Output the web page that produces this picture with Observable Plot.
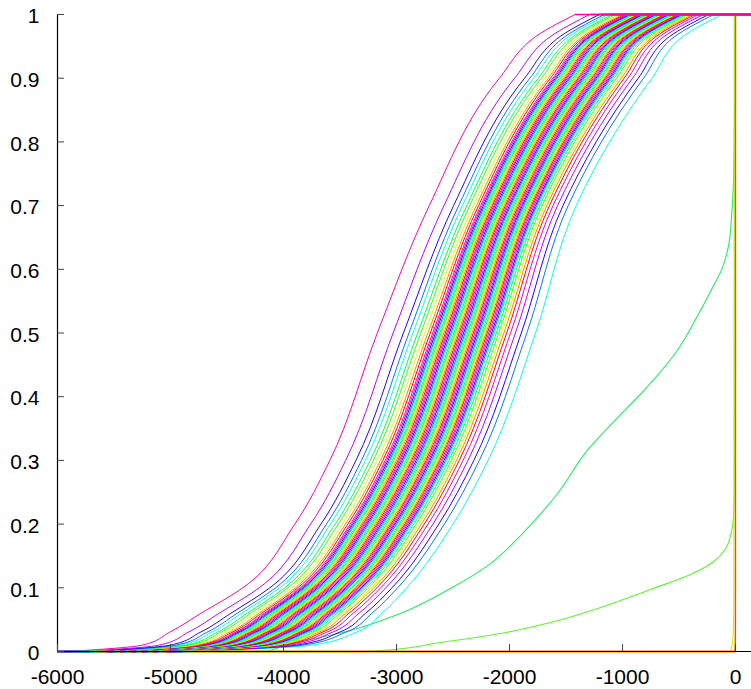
<!DOCTYPE html>
<html><head><meta charset="utf-8">
<script src="https://cdn.jsdelivr.net/npm/d3@7"></script>
<script src="https://cdn.jsdelivr.net/npm/@observablehq/plot@0.6"></script>
<style>html,body{margin:0;padding:0;background:#fff}svg{display:block}</style>
</head><body><div id="chart"></div>
<script>
const xDomain = [-6000, 141];
const yDomain = [0, 1];
const xTicks = [-6000, -5000, -4000, -3000, -2000, -1000, 0];
const yTicks = [0, 0.1, 0.2, 0.3, 0.4, 0.5, 0.6, 0.7, 0.8, 0.9, 1];

// cumulative levels at which the x of every band curve was read (left to right)
const bandLevels = [0, 0.01, 0.03, 0.06, 0.1, 0.2, 0.3, 0.5, 0.7, 0.9, 0.97, 1];
const bandP000 = [-5900,-5790,-5718,-5680,-5652,-5619,-5597,-5570,-5548,-5531,-5515,-5505,-5495,-5485,-5476,-5467,-5457,-5447,-5437,-5427,-5417,-5408,-5398,-5388,-5379,-5369,-5359,-5349,-5340,-5330,-5320,-5310,-5300,-5291,-5281,-5272,-5262,-5252,-5242,-5232,-5222,-5212,-5204,-5194,-5184,-5174,-5164,-5154,-5144,-5135,-5126,-5116,-5106,-5096,-5086,-5073,-5055,-5036,-5020,-5000,-4974,-4940,-4899,-4860,-4800];
const bandP001 = [-5250,-5100,-5002,-4950,-4912,-4867,-4837,-4800,-4770,-4747,-4725,-4711,-4698,-4684,-4672,-4659,-4645,-4632,-4618,-4605,-4591,-4579,-4566,-4552,-4539,-4525,-4512,-4498,-4486,-4473,-4459,-4446,-4432,-4419,-4405,-4393,-4380,-4366,-4353,-4339,-4326,-4312,-4300,-4287,-4273,-4260,-4246,-4233,-4219,-4207,-4194,-4180,-4167,-4153,-4140,-4122,-4098,-4072,-4050,-4023,-3987,-3940,-3885,-3832,-3750];
const bandP003 = [-5010,-4845,-4738,-4680,-4639,-4589,-4556,-4515,-4482,-4457,-4432,-4418,-4403,-4388,-4375,-4360,-4345,-4330,-4315,-4300,-4286,-4272,-4258,-4243,-4228,-4213,-4198,-4183,-4170,-4155,-4140,-4126,-4111,-4096,-4081,-4068,-4053,-4038,-4023,-4008,-3994,-3979,-3966,-3951,-3936,-3921,-3906,-3891,-3876,-3863,-3848,-3834,-3819,-3804,-3789,-3769,-3743,-3715,-3690,-3660,-3621,-3570,-3508,-3451,-3360];
const bandP006 = [-4730,-4570,-4466,-4410,-4370,-4322,-4290,-4250,-4218,-4194,-4170,-4156,-4141,-4127,-4114,-4100,-4085,-4071,-4056,-4042,-4028,-4015,-4000,-3986,-3972,-3957,-3943,-3928,-3916,-3901,-3887,-3872,-3858,-3844,-3829,-3816,-3802,-3788,-3773,-3759,-3744,-3730,-3717,-3703,-3688,-3674,-3660,-3645,-3631,-3618,-3604,-3589,-3575,-3560,-3546,-3527,-3501,-3474,-3450,-3421,-3383,-3333,-3274,-3218,-3130];
const bandP010 = [-4360,-4215,-4121,-4070,-4034,-3990,-3961,-3925,-3896,-3874,-3852,-3839,-3826,-3813,-3802,-3789,-3776,-3763,-3750,-3736,-3723,-3712,-3699,-3686,-3673,-3660,-3647,-3634,-3622,-3609,-3596,-3583,-3570,-3557,-3544,-3532,-3519,-3506,-3493,-3480,-3467,-3454,-3442,-3429,-3416,-3403,-3390,-3377,-3364,-3352,-3339,-3326,-3313,-3300,-3287,-3270,-3246,-3222,-3200,-3174,-3139,-3094,-3040,-2990,-2910];
const bandP020 = [-3900,-3760,-3669,-3620,-3585,-3543,-3515,-3480,-3452,-3431,-3410,-3397,-3385,-3372,-3361,-3348,-3336,-3323,-3311,-3298,-3285,-3274,-3262,-3249,-3236,-3224,-3211,-3199,-3187,-3175,-3162,-3150,-3137,-3124,-3112,-3101,-3088,-3075,-3063,-3050,-3038,-3025,-3014,-3001,-2989,-2976,-2963,-2951,-2938,-2927,-2914,-2902,-2889,-2877,-2864,-2847,-2825,-2801,-2780,-2755,-2721,-2678,-2626,-2577,-2500];
const bandP030 = [-3590,-3450,-3359,-3310,-3275,-3233,-3205,-3170,-3142,-3121,-3100,-3087,-3075,-3062,-3051,-3038,-3026,-3013,-3001,-2988,-2975,-2964,-2952,-2939,-2926,-2914,-2901,-2889,-2877,-2865,-2852,-2840,-2827,-2814,-2802,-2791,-2778,-2765,-2753,-2740,-2728,-2715,-2704,-2691,-2679,-2666,-2653,-2641,-2628,-2617,-2604,-2592,-2579,-2567,-2554,-2537,-2515,-2491,-2470,-2445,-2411,-2368,-2316,-2267,-2190];
const bandP050 = [-3170,-3030,-2939,-2890,-2855,-2813,-2785,-2750,-2722,-2701,-2680,-2667,-2655,-2642,-2631,-2618,-2606,-2593,-2581,-2568,-2555,-2544,-2532,-2519,-2506,-2494,-2481,-2469,-2457,-2445,-2432,-2420,-2407,-2394,-2382,-2371,-2358,-2345,-2333,-2320,-2308,-2295,-2284,-2271,-2259,-2246,-2233,-2221,-2208,-2197,-2184,-2172,-2159,-2147,-2134,-2117,-2095,-2071,-2050,-2025,-1991,-1948,-1896,-1847,-1770];
const bandP070 = [-2710,-2580,-2495,-2450,-2417,-2378,-2352,-2320,-2294,-2274,-2255,-2243,-2232,-2220,-2209,-2198,-2186,-2174,-2163,-2151,-2139,-2129,-2117,-2105,-2094,-2082,-2070,-2059,-2048,-2037,-2025,-2013,-2001,-1990,-1978,-1968,-1956,-1944,-1933,-1921,-1909,-1897,-1887,-1875,-1864,-1852,-1840,-1829,-1817,-1806,-1795,-1783,-1771,-1760,-1748,-1732,-1712,-1689,-1670,-1647,-1615,-1575,-1527,-1481,-1410];
const bandP090 = [-2090,-1955,-1867,-1820,-1786,-1746,-1719,-1685,-1658,-1638,-1617,-1605,-1593,-1581,-1570,-1558,-1546,-1534,-1522,-1509,-1497,-1487,-1474,-1462,-1450,-1438,-1426,-1414,-1403,-1391,-1379,-1366,-1354,-1342,-1330,-1319,-1307,-1295,-1283,-1271,-1258,-1246,-1235,-1223,-1211,-1199,-1187,-1175,-1163,-1152,-1140,-1127,-1115,-1103,-1091,-1075,-1053,-1030,-1010,-986,-953,-911,-861,-814,-740];
const bandP097 = [-1730,-1600,-1515,-1470,-1437,-1398,-1372,-1340,-1314,-1294,-1275,-1263,-1252,-1240,-1229,-1218,-1206,-1194,-1183,-1171,-1159,-1149,-1137,-1125,-1114,-1102,-1090,-1079,-1068,-1057,-1045,-1033,-1021,-1010,-998,-988,-976,-964,-953,-941,-929,-917,-907,-895,-884,-872,-860,-849,-837,-826,-815,-803,-791,-780,-768,-752,-732,-709,-690,-667,-635,-595,-547,-501,-430];
const bandP100 = [-1420,-1290,-1205,-1160,-1127,-1088,-1062,-1030,-1004,-984,-965,-953,-942,-930,-919,-908,-896,-884,-873,-861,-849,-839,-827,-815,-804,-792,-780,-769,-758,-747,-735,-723,-711,-700,-688,-678,-666,-654,-643,-631,-619,-607,-597,-585,-574,-562,-550,-539,-527,-516,-505,-493,-481,-470,-458,-442,-422,-399,-380,-357,-325,-285,-237,-191,-120];

// the separate curves on the right
const greenMidP = [0, 0.0126, 0.033, 0.0597, 0.099, 0.138, 0.182, 0.248, 0.316, 0.367, 0.421, 0.473, 0.527, 0.571, 0.603, 0.637, 0.684, 0.739, 0.865, 1];
const greenMidX = [-4150, -3912, -3407, -2965, -2522, -2168, -1903, -1575, -1310, -1044, -753, -514, -336, -204, -115, -62, -35, -18, -9, -8];
const greenLowP = [0, 0.0016, 0.0141, 0.0283, 0.0455, 0.069, 0.0973, 0.1209, 0.1397, 0.1586, 0.1821, 0.2135, 0.2684, 1];
const greenLowX = [-3400, -3142, -2611, -2080, -1637, -1195, -753, -399, -204, -98, -44, -18, -9, -5];
const steepP = [0, 0.01, 0.03, 0.1, 1];
const steepYellowX = [-45, -30, -20, -15, -12];
const steepOrangeX = [-10, -6, -4, -3, -2];
const steepRedX = [-3, -1, 0, 0.5, 1];

const bandCols = [bandP000, bandP001, bandP003, bandP006, bandP010, bandP020, bandP030, bandP050, bandP070, bandP090, bandP097, bandP100];
const extras = [
  {id: "gLow", ps: greenLowP, xs: greenLowX, color: "#5cf52a"},
  {id: "gMid", ps: greenMidP, xs: greenMidX, color: "#22ec62"},
  {id: "sY", ps: steepP, xs: steepYellowX, color: "#c8f000"},
  {id: "sO", ps: steepP, xs: steepOrangeX, color: "#ff9a10"},
  {id: "sR", ps: steepP, xs: steepRedX, color: "#ff3a20"}
];

const extraRows = [], bandRows = [], tails = [];
for (const e of extras) {
  e.ps.forEach((p, k) => extraRows.push({id: e.id, x: e.xs[k], p, color: e.color}));
  tails.push({x1: xDomain[0], x2: e.xs[0], p: e.ps[0], color: e.color});
  tails.push({x1: e.xs[e.xs.length - 1], x2: xDomain[1], p: e.ps[e.ps.length - 1], color: e.color});
}
const n = bandP000.length;
for (let r = n - 1; r >= 0; r--) {
  const hue = (((320 - 36 * r) % 360) + 360) % 360;
  const color = d3.hsl(hue, 1, 0.5).formatHex();
  bandLevels.forEach((p, k) => bandRows.push({id: "b" + r, x: bandCols[k][r], p, color}));
  tails.push({x1: xDomain[0], x2: bandCols[0][r], p: bandLevels[0], color});
  tails.push({x1: bandCols[bandCols.length - 1][r], x2: xDomain[1], p: bandLevels[bandLevels.length - 1], color});
}

const fontSize = 21;
const chart = Plot.plot({
  width: 751, height: 689,
  marginTop: 14, marginBottom: 38, marginLeft: 57, marginRight: 0,
  x: {domain: xDomain},
  y: {domain: yDomain},
  color: {type: "identity"},
  style: {fontFamily: "'Liberation Sans', Arial, Helvetica, sans-serif", fontSize: fontSize + "px", background: "#fff", color: "#000"},
  marks: [
    Plot.line(extraRows, {x: "x", y: "p", z: "id", stroke: "color", curve: "monotone-y", strokeWidth: 1.1}),
    Plot.line(bandRows, {x: "x", y: "p", z: "id", stroke: "color", curve: "monotone-y", strokeWidth: 1}),
    Plot.link(tails, {x1: "x1", x2: "x2", y1: "p", y2: "p", stroke: "color", strokeWidth: 1.3}),
    Plot.ruleX([xDomain[0]], {stroke: "#000", strokeWidth: 1.2}),
    Plot.ruleY([yDomain[0]], {stroke: "#000", strokeWidth: 1.2}),
    Plot.axisX({ticks: xTicks, tickSize: 7, dy: -7, tickFormat: () => "", label: null, stroke: "#444"}),
    Plot.axisY({ticks: yTicks, tickSize: 7, dx: 7, tickFormat: () => "", label: null, stroke: "#444"}),
    Plot.axisX({ticks: xTicks, tickSize: 0, tickPadding: 18, tickFormat: d => String(d), label: null, fontSize: fontSize, fill: "#000"}),
    Plot.axisY({ticks: yTicks, tickSize: 0, tickPadding: 18, dy: 2, tickFormat: d => String(d), label: null, fontSize: fontSize, fill: "#000"})
  ]
});
document.getElementById("chart").appendChild(chart);
</script>
</body></html>
